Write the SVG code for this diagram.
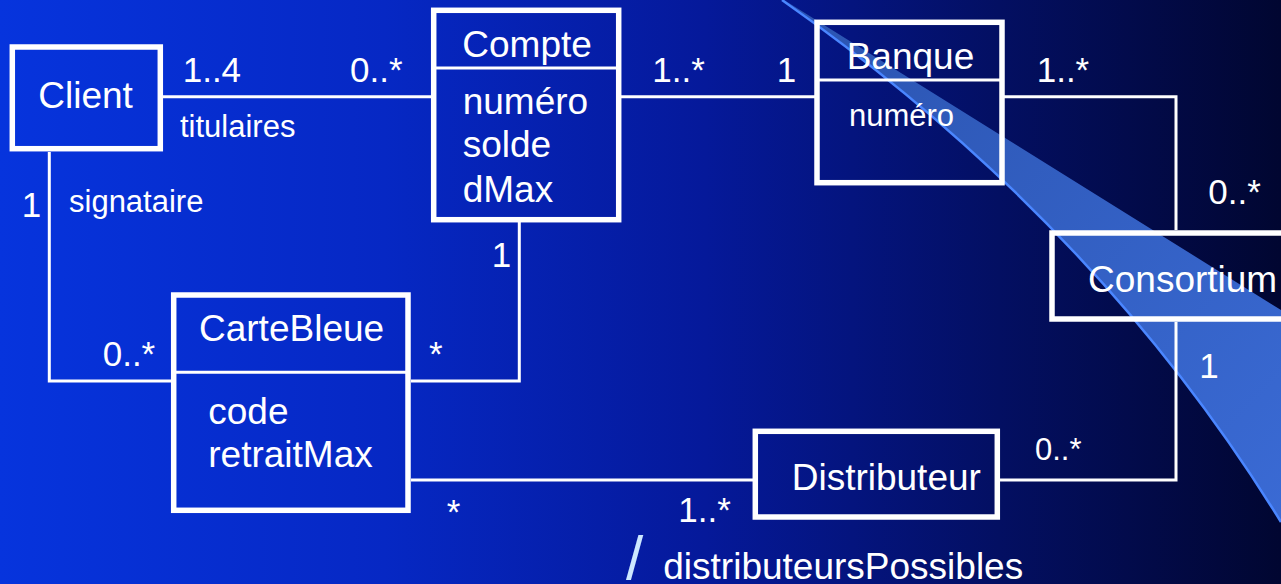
<svg xmlns="http://www.w3.org/2000/svg" width="1281" height="584" viewBox="0 0 1281 584">
<defs>
<linearGradient id="bg" x1="0" y1="0" x2="1" y2="0">
<stop offset="0" stop-color="#0634dd"/>
<stop offset="0.3" stop-color="#0628c4"/>
<stop offset="0.55" stop-color="#05199a"/>
<stop offset="0.78" stop-color="#030f62"/>
<stop offset="1" stop-color="#010631"/>
</linearGradient>
<linearGradient id="sw" x1="0" y1="0" x2="1" y2="1">
<stop offset="0" stop-color="#2b54b0"/>
<stop offset="1" stop-color="#3a6ad4"/>
</linearGradient>
<style>
.box{fill:none;stroke:#fff;stroke-width:5.5}
.div{stroke:#fff;stroke-width:3}
.conn{fill:none;stroke:#fff;stroke-width:3}
text{font-family:"Liberation Sans",Arial,Helvetica,sans-serif;fill:#fff}
.t{font-size:37px}
.m{font-size:35px}
.s{font-size:31px}
</style>
</defs>
<rect width="1281" height="584" fill="url(#bg)"/>
<g id="swoosh">
<path d="M784,0 L1281,310 L1281,522 Q1095,220 784,0 Z" fill="url(#sw)"/>
<path d="M782,0 Q1095,220 1281,522" fill="none" stroke="#4a86ff" stroke-width="2.5"/>
</g>
<g id="connectors">
<path class="conn" d="M163,96.7 H431"/>
<path class="conn" d="M621,96.7 H815"/>
<path class="conn" d="M1004,96.7 H1176 V230"/>
<path class="conn" d="M1176,322 V480 H1000"/>
<path class="conn" d="M49.3,152 V381 H171"/>
<path class="conn" d="M519.3,222 V381 H411"/>
<path class="conn" d="M411,480 H753"/>
<text class="m" x="182.7" y="82.3">1..4</text>
<text class="m" x="350" y="82.3">0..*</text>
<text class="s" x="180" y="137">titulaires</text>
<text class="m" x="652.3" y="82">1..*</text>
<text class="m" x="776.7" y="82">1</text>
<text class="m" x="1036.7" y="81.7">1..*</text>
<text class="m" x="1208.3" y="204">0..*</text>
<text class="m" x="1199.3" y="378.3">1</text>
<text class="s" x="1035" y="460">0..*</text>
<text class="m" x="21.7" y="217">1</text>
<text class="s" x="69" y="212">signataire</text>
<text class="m" x="102.7" y="366">0..*</text>
<text class="m" x="491.7" y="266.7">1</text>
<text class="m" x="429" y="366">*</text>
<text class="m" x="446.7" y="524">*</text>
<text class="m" x="678.3" y="522">1..*</text>
<text x="626" y="579" font-size="62" style="fill:#cde8ff">/</text>
<text class="t" x="663.3" y="579.3">distributeursPossibles</text>
</g>
<g id="Client">
<rect class="box" x="12.3" y="47" width="148" height="101.7"/>
<text class="t" x="38.3" y="108">Client</text>
</g>
<g id="Compte">
<rect class="box" x="433.7" y="10.3" width="185" height="209.4"/>
<line class="div" x1="433.7" y1="68" x2="618.7" y2="68"/>
<text class="t" x="462.3" y="56.7">Compte</text>
<text class="t" x="462.7" y="114.3">numéro</text>
<text class="t" x="462.7" y="156.7">solde</text>
<text class="t" x="462.7" y="202.3">dMax</text>
</g>
<g id="Banque">
<rect class="box" x="817" y="22.3" width="185" height="160.4"/>
<line class="div" x1="817" y1="80" x2="1002" y2="80"/>
<text class="t" x="846.7" y="69">Banque</text>
<text class="s" x="849" y="126">numéro</text>
</g>
<g id="Consortium">
<rect class="box" x="1052" y="233" width="260" height="86"/>
<text class="t" x="1088" y="292">Consortium</text>
</g>
<g id="CarteBleue">
<rect class="box" x="173.7" y="295" width="234.3" height="215.3"/>
<line class="div" x1="173.7" y1="372.3" x2="408" y2="372.3"/>
<text class="t" x="199" y="341">CarteBleue</text>
<text class="t" x="208.3" y="424.3">code</text>
<text class="t" x="208.3" y="466.7">retraitMax</text>
</g>
<g id="Distributeur">
<rect class="box" x="755.3" y="431.3" width="242" height="85.7"/>
<text class="t" x="791.7" y="490">Distributeur</text>
</g>
</svg>
